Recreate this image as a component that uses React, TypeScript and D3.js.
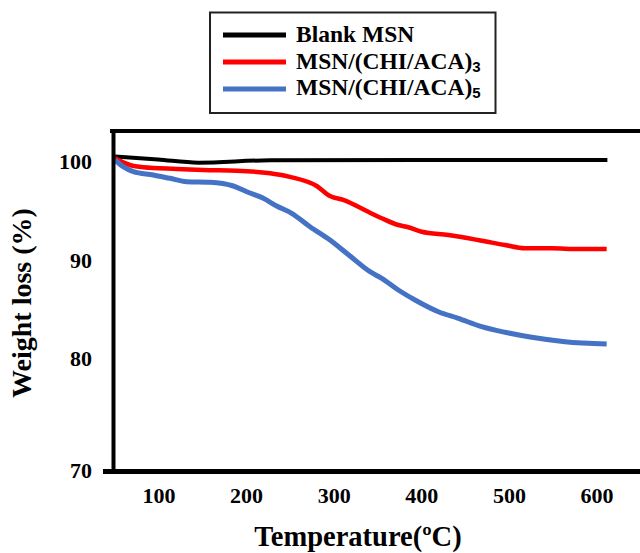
import React from "react";
import * as d3 from "d3";

type Pt = [number, number];

const blankMSN: Pt[] = [
  [51, 100.35], [100, 100.05], [146, 99.73], [228, 99.97], [400, 100], [613, 100],
];

const chiAca3: Pt[] = [
  [50.9, 100.17], [68, 99.49], [83.2, 99.26], [121.3, 99.09], [151.7, 98.98],
  [189.8, 98.91], [227.9, 98.65], [250.7, 98.29], [281.2, 97.36], [296.3, 96.35],
  [311.5, 95.94], [342, 94.65], [355.4, 94.09], [374.3, 93.4], [385.7, 93.17],
  [401, 92.72], [431.4, 92.39], [469.5, 91.81], [496.1, 91.37], [518.9, 91.04],
  [549.4, 91.04], [579.8, 90.96], [612.2, 90.96],
];

const chiAca5: Pt[] = [
  [50.9, 100.0], [60.4, 99.32], [71.8, 98.81], [94.6, 98.48], [113.7, 98.14],
  [132.8, 97.8], [159.4, 97.74], [186, 97.36], [201.3, 96.78], [220.2, 96.11],
  [235.5, 95.33], [252.6, 94.59], [273.5, 93.23], [296.3, 91.88], [319.2, 90.25],
  [342, 88.66], [355.4, 87.99], [374.3, 86.8], [393.4, 85.79], [420, 84.6],
  [442.8, 83.93], [469.5, 83.08], [496.1, 82.51], [526.6, 82.0], [564.6, 81.55],
  [612.2, 81.32],
];

const xTicks = [100, 200, 300, 400, 500, 600];
const yTicks = [70, 80, 90, 100];

const seriesNames = ["Blank MSN", "MSN/(CHI/ACA)", "MSN/(CHI/ACA)"];
const seriesSubs = ["", "3", "5"];
const seriesColors = ["#000000", "#FF0000", "#4472C4"];
const seriesWidths = [4, 4.5, 5];

const W = 640;
const H = 553;
const serif = "'Liberation Serif', 'Times New Roman', serif";

export default function App() {
  const x = d3.scaleLinear().domain([100, 600]).range([158, 596]);
  const y = d3.scaleLinear().domain([80, 100]).range([357, 160]);

  const left = 113.5;
  const right = 640;
  const top = 131;
  const bottom = 471.5;

  const line = d3
    .line<Pt>()
    .x((d) => x(d[0]))
    .y((d) => y(d[1]))
    .curve(d3.curveMonotoneX);

  const data = [blankMSN, chiAca3, chiAca5];

  return (
    <svg
      width={W}
      height={H}
      style={{ position: "absolute", left: 0, top: 0, background: "#fff" }}
    >
      <rect x={0} y={0} width={W} height={H} fill="#fff" />
      {/* legend */}
      <rect x={210} y={12.5} width={285.5} height={100.5} fill="#fff" stroke="#222" strokeWidth={2} />
      {seriesNames.map((name, i) => (
        <g key={i}>
          <line
            x1={223}
            x2={286}
            y1={35 + i * 27}
            y2={35 + i * 27}
            stroke={seriesColors[i]}
            strokeWidth={5}
          />
          <text
            x={296}
            y={42 + i * 26.7}
            fontFamily={serif}
            fontWeight="bold"
            fontSize={23.5}
            fill="#000"
          >
            {name}
            {seriesSubs[i] && (
              <tspan
                fontFamily="'Liberation Sans', Arial, sans-serif"
                fontSize={15}
                dy={3}
              >
                {seriesSubs[i]}
              </tspan>
            )}
          </text>
        </g>
      ))}

      {/* series */}
      {data.map((d, i) => (
        <path
          key={i}
          d={line(d) || ""}
          fill="none"
          stroke={seriesColors[i]}
          strokeWidth={seriesWidths[i]}
          strokeLinejoin="round"
        />
      ))}

      {/* frame */}
      <line x1={110} x2={right} y1={top} y2={top} stroke="#000" strokeWidth={4} />
      <line x1={left} x2={left} y1={top - 2} y2={bottom} stroke="#000" strokeWidth={4} />
      <line x1={103} x2={right} y1={bottom} y2={bottom} stroke="#000" strokeWidth={5} />

      {/* y ticks */}
      {yTicks.map((v) => {
        const ty = v <= 70 ? bottom - 1 : y(v) + 1.5;
        return (
          <text
            key={v}
            x={92}
            y={ty + 7.5}
            textAnchor="end"
            fontFamily={serif}
            fontWeight="bold"
            fontSize={22}
          >
            {v}
          </text>
        );
      })}

      {/* x ticks */}
      {xTicks.map((v) => (
        <text
          key={v}
          x={x(v) + 1}
          y={503}
          textAnchor="middle"
          fontFamily={serif}
          fontWeight="bold"
          fontSize={22}
        >
          {v}
        </text>
      ))}

      {/* axis titles */}
      <text
        x={358}
        y={546}
        textAnchor="middle"
        fontFamily={serif}
        fontWeight="bold"
        fontSize={28.5}
      >
        Temperature(ºC)
      </text>
      <text
        transform="translate(31,303) rotate(-90)"
        textAnchor="middle"
        fontFamily={serif}
        fontWeight="bold"
        fontSize={28}
      >
        Weight loss (%)
      </text>
    </svg>
  );
}
